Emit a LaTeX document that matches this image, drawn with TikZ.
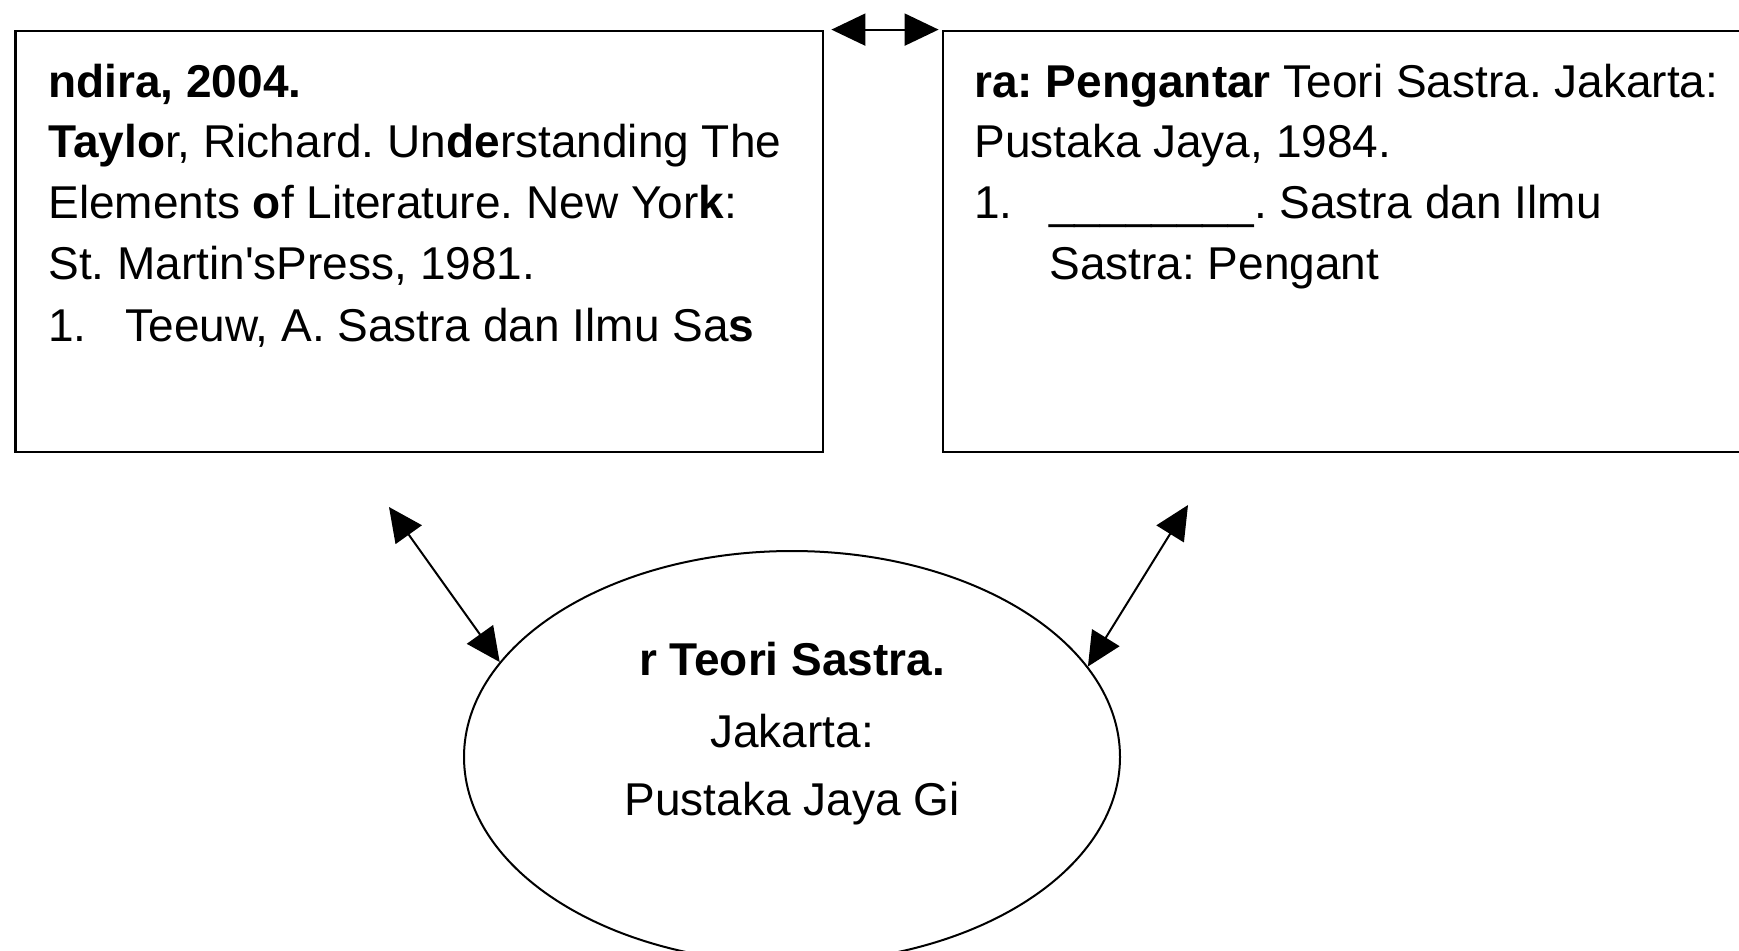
\documentclass[tikz,border=0pt]{standalone}
\usepackage{fontspec}
\setmainfont{Liberation Sans}
\usetikzlibrary{arrows.meta, shapes.geometric}
\frenchspacing

\begin{document}
\begin{tikzpicture}[x=0.5pt, y=-0.5pt,
  box/.style={draw, line width=1.4pt, minimum height=210.5pt, inner sep=0pt},
  line/.style={anchor=base west, inner sep=0pt, font=\fontsize{23}{27}\selectfont},
  mid/.style={anchor=base, inner sep=0pt, font=\fontsize{23}{27}\selectfont},
  link/.style={line width=1pt, {Triangle[length=17pt,width=16pt]}-{Triangle[length=17pt,width=16pt]}}]
\useasboundingbox (0,0) rectangle (1739,950);

\node[box, minimum width=403.75pt] (left) at (419.25,241.5) {};
\node[box, minimum width=430pt] (right) at (1373,241.5) {};
\node[draw, ellipse, line width=1pt, minimum width=328pt, minimum height=206pt] (elli) at (792,757) {};

% left box
\node[line] (l1) at (48,97) {\bfseries ndira, 2004.};
\node[line] (l2) at (48,157) {\textbf{Taylo}r, Richard. Un\textbf{de}rstanding The};
\node[line] (l3) at (48,218) {Elements \textbf{o}f Literature. New Yor\textbf{k}:};
\node[line] (l4) at (48,279) {St. Martin\textquotesingle sPress, 1981.};
\node[line] (l5) at (48,341) {\makebox[38.5pt][l]{1.}Teeuw, A. Sastra dan Ilmu Sa\textbf{s}};

% right box
\node[line] (r1) at (974,97) {\textbf{ra: Pengantar} Teori Sastra. Jakarta:};
\node[line] (r2) at (974,157) {Pustaka Jaya, 1984.};
\node[line] (r3) at (974,218) {\makebox[37.5pt][l]{1.}\_\_\_\_\_\_\_\_. Sastra dan Ilmu};
\node[line] (r4) at (1049,279) {Sastra: Pengant};

% ellipse
\node[mid] (e1) at (792,675) {\bfseries r Teori Sastra.};
\node[mid] (e2) at (792,747) {Jakarta:};
\node[mid] (e3) at (792,815) {Pustaka Jaya Gi};

\coordinate (tipL) at (389,507);
\coordinate (tipR) at (1188,505);

\draw[link, shorten <=3.5pt, shorten >=1.5pt] (left.north east) -- (right.north west);
\draw[link] (tipL) -- (elli.162);
\draw[link] (tipR) -- (elli.17);
\end{tikzpicture}
\end{document}
